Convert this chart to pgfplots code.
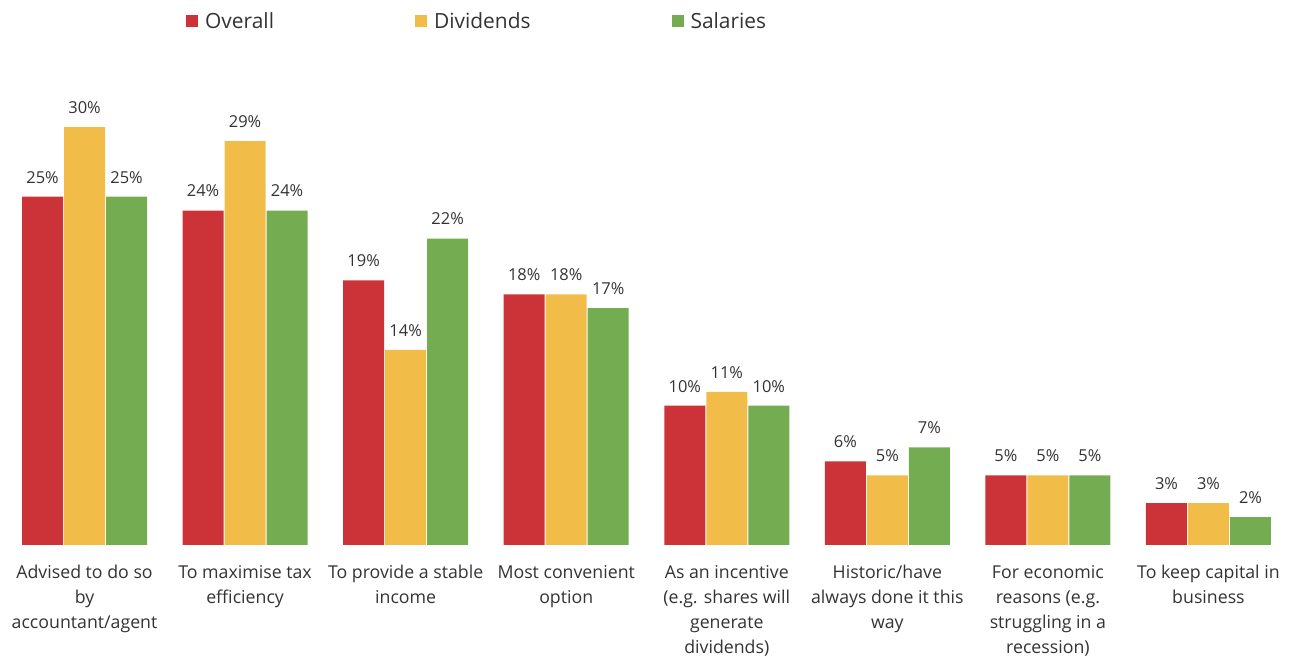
\documentclass[border=0pt]{standalone}
\usepackage{pgfplots}
\pgfplotsset{compat=1.18}
\usepackage{fontspec}
\setmainfont{Open Sans}
\definecolor{cred}{HTML}{CC3339}
\definecolor{cyel}{HTML}{F1BD48}
\definecolor{cgrn}{HTML}{74AD51}
\definecolor{tgray}{HTML}{333333}
\begin{document}
\begin{tikzpicture}
\path[use as bounding box] (0,0) rectangle (1292bp,657bp);
\begin{axis}[
  at={(4.25bp,112bp)}, anchor=south west,
  scale only axis, width=1284.5bp, height=487.55bp,
  xmin=-0.5, xmax=7.5, ymin=0, ymax=35,
  axis line style={draw=none},
  major tick length=0pt,
  ytick=\empty,
  xtick={0,...,7},
  /pgf/number format/assume math mode=true,
  xticklabels={
    {Advised to do so\\by\\accountant/agent},
    {To maximise tax\\efficiency},
    {To provide a stable\\income},
    {Most convenient\\option},
    {As an incentive\\(e.g. shares will\\generate\\dividends)},
    {Historic/have\\always done it this\\way},
    {For economic\\reasons (e.g.\\struggling in a\\recession)},
    {To keep capital in\\business}},
  xticklabel style={font=\fontsize{17.8}{25}\selectfont, align=center, text=tgray, yshift=-17bp},
  ybar=1bp, bar width=41bp,
  nodes near coords={\pgfmathprintnumber{\pgfplotspointmeta}\%},
  nodes near coords style={font=\fontsize{16.5}{19}\selectfont, text=tgray, yshift=10bp},
  legend columns=3,
  legend style={at={(0.1415,1.0748)}, anchor=west, draw=none, inner sep=0pt,
    font=\fontsize{21}{24}\selectfont, text=tgray,
    /tikz/every odd column/.append style={column sep=5bp},
    /tikz/every even column/.append style={column sep=139bp}},
  legend image code/.code={\fill[#1] (0bp,-6bp) rectangle (12bp,6bp);},
]
\addplot[fill=cred, draw=none] coordinates {(0,25) (1,24) (2,19) (3,18) (4,10) (5,6) (6,5) (7,3)};
\addplot[fill=cyel, draw=none] coordinates {(0,30) (1,29) (2,14) (3,18) (4,11) (5,5) (6,5) (7,3)};
\addplot[fill=cgrn, draw=none] coordinates {(0,25) (1,24) (2,22) (3,17) (4,10) (5,7) (6,5) (7,2)};
\legend{Overall, Dividends, Salaries}
\end{axis}
\end{tikzpicture}
\end{document}
